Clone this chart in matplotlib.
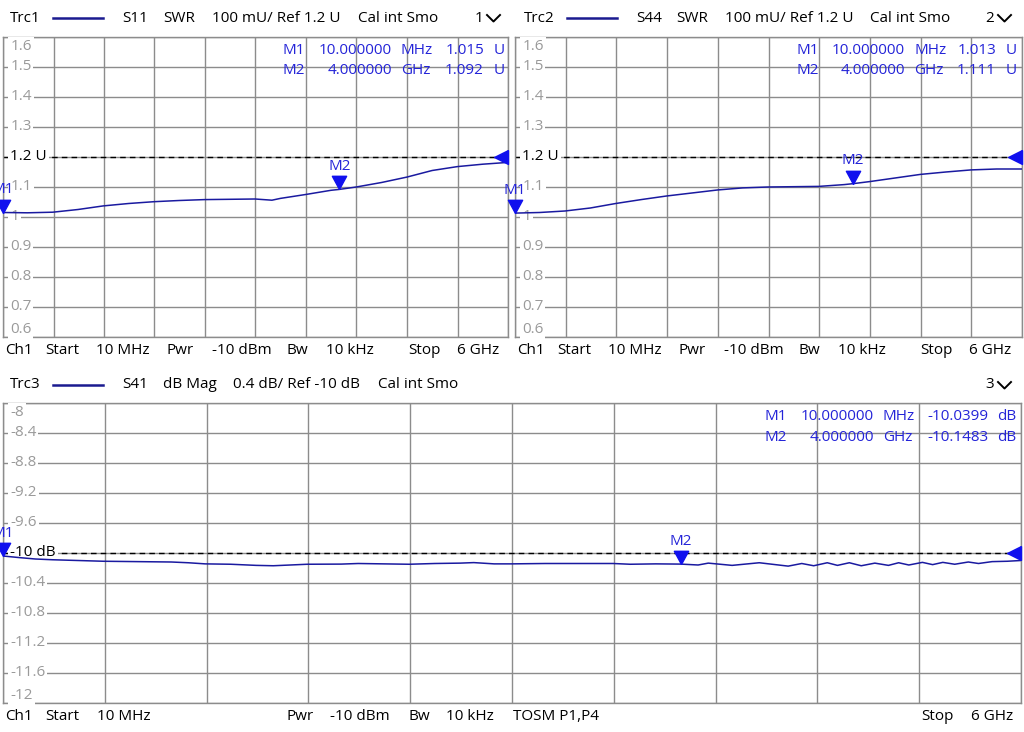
import numpy as np
import matplotlib.pyplot as plt
from matplotlib.lines import Line2D

plt.rcParams['font.family'] = ['Open Sans', 'DejaVu Sans']

W, H = 1024, 732

# trace 1: S11 SWR
s11_freq = [0.01, 0.3, 0.6, 0.9, 1.2, 1.5, 1.8, 2.1, 2.4, 2.7, 3.0, 3.2, 3.3, 3.6,
            3.9, 4.0, 4.2, 4.5, 4.8, 5.1, 5.4, 5.7, 6.0]
s11_swr = [1.015, 1.014, 1.016, 1.025, 1.037, 1.045, 1.051, 1.055, 1.058, 1.059, 1.060,
           1.056, 1.062, 1.075, 1.089, 1.092, 1.100, 1.115, 1.133, 1.155, 1.168, 1.176, 1.182]

# trace 2: S44 SWR
s44_freq = [0.01, 0.3, 0.6, 0.9, 1.2, 1.5, 1.8, 2.1, 2.4, 2.7, 3.0, 3.3, 3.6,
            3.9, 4.0, 4.2, 4.5, 4.8, 5.1, 5.4, 5.7, 6.0]
s44_swr = [1.013, 1.015, 1.020, 1.030, 1.045, 1.058, 1.070, 1.080, 1.090, 1.097, 1.100,
           1.101, 1.102, 1.108, 1.111, 1.118, 1.130, 1.142, 1.150, 1.157, 1.160, 1.160]

# trace 3: S41 dB Mag
s41_freq = [0.01, 0.1, 0.2, 0.3, 0.45, 0.6, 0.8, 1.0, 1.1, 1.2, 1.35, 1.5, 1.6, 1.7,
            1.8, 2.0, 2.1, 2.25, 2.4, 2.55, 2.7, 2.78, 2.9, 3.0, 3.2, 3.4, 3.6, 3.7,
            3.85, 4.0, 4.10, 4.16, 4.30, 4.46, 4.63, 4.71, 4.78, 4.86, 4.92, 4.99,
            5.06, 5.14, 5.22, 5.28, 5.34, 5.42, 5.48, 5.54, 5.61, 5.69, 5.75, 5.83,
            5.92, 6.0]
s41_db = [-10.04, -10.06, -10.08, -10.09, -10.10, -10.11, -10.115, -10.12, -10.13, -10.145,
          -10.15, -10.165, -10.17, -10.16, -10.15, -10.148, -10.14, -10.145, -10.15, -10.14,
          -10.135, -10.128, -10.145, -10.145, -10.14, -10.14, -10.14, -10.15, -10.145, -10.148,
          -10.16, -10.135, -10.165, -10.13, -10.175, -10.14, -10.17, -10.13, -10.165, -10.13,
          -10.17, -10.135, -10.165, -10.13, -10.16, -10.125, -10.155, -10.125, -10.15, -10.12,
          -10.14, -10.115, -10.11, -10.10]

marker_freq = [0.01, 4.0]
marker_names = ['M1', 'M2']
s11_markers = [1.015, 1.092]
s44_markers = [1.013, 1.111]
s41_markers = [-10.0399, -10.1483]

swr_ticks = [1.6, 1.5, 1.4, 1.3, 1.2, 1.1, 1.0, 0.9, 0.8, 0.7, 0.6]
swr_labels = ['1.6', '1.5', '1.4', '1.3', '1.2 U', '1.1', '1', '0.9', '0.8', '0.7', '0.6']
db_ticks = [-8, -8.4, -8.8, -9.2, -9.6, -10, -10.4, -10.8, -11.2, -11.6, -12]
db_labels = ['-8', '-8.4', '-8.8', '-9.2', '-9.6', '-10 dB', '-10.4', '-10.8', '-11.2',
             '-11.6', '-12']

GRID = '#8c8c8c'
LABEL = '#9a9a9a'
TRACE = '#1a1aa0'
MARK = '#1010ee'
TXT_BLUE = '#2424d8'
FS = 11

fig = plt.figure(figsize=(W / 100, H / 100), dpi=100)
fig.patch.set_facecolor('white')


def ftext(x, y, s, **kw):
    kw.setdefault('ha', 'left')
    kw.setdefault('va', 'center')
    kw.setdefault('fontsize', FS)
    fig.text(x / W, 1 - y / H, s, **kw)


def chevron(x, y):
    fig.add_artist(Line2D([x / W, (x + 6.5) / W, (x + 13) / W],
                          [1 - y / H, 1 - (y + 6.5) / H, 1 - y / H],
                          color='black', lw=1.4, transform=fig.transFigure))


def trc_line(x0, x1, y):
    fig.add_artist(Line2D([x0 / W, x1 / W], [1 - y / H, 1 - y / H],
                          color='#1a1a90', lw=1.8, transform=fig.transFigure))


down_tri = [(0, 0), (-1, 1.85), (1, 1.85), (0, 0)]
left_tri = [(0, 0.5), (0, -0.5), (-1, 0), (0, 0.5)]


def panel(px, freq, vals, ticks, labels, ref, mk_vals):
    x0, y0, w, h = px
    ax = fig.add_axes([x0 / W, 1 - (y0 + h) / H, w / W, h / H])
    ax.set_xlim(0.01, 6.0)
    ax.set_ylim(min(ticks), max(ticks))
    ax.set_xticks(np.linspace(0.01, 6.0, 11))
    ax.set_yticks(ticks)
    ax.grid(color=GRID, lw=1)
    ax.tick_params(length=0, labelleft=False, labelbottom=False)
    for s in ax.spines.values():
        s.set_color(GRID)
        s.set_linewidth(1)
    ax.axhline(ref, color='black', ls=(0, (4, 3)), lw=1, zorder=2)
    ax.plot(freq, vals, color=TRACE, lw=1.1, zorder=4)

    tr = ax.get_yaxis_transform()
    for t, lab in zip(ticks, labels):
        dy = 0
        if t == max(ticks):
            dy = -7
        elif t == min(ticks):
            dy = 5.5
        col = 'black' if t == ref else LABEL
        ax.annotate(lab, xy=(0, t), xycoords=tr, xytext=(5.2, dy), textcoords='offset points',
                    ha='left', va='center', fontsize=FS, color=col, zorder=3,
                    bbox=dict(boxstyle='square,pad=0.12', fc='white', ec='none'))

    # reference level arrow at right edge
    ax.plot([1.0], [ref], transform=tr, marker=left_tri, ms=20, color=MARK,
            clip_on=False, zorder=6, ls='none')

    # markers
    for f, v, name in zip(marker_freq, mk_vals, marker_names):
        ax.plot([f], [v], marker=down_tri, ms=19, color=MARK, clip_on=False,
                zorder=6, ls='none')
        ax.annotate(name, xy=(f, v), xytext=(0, 16.5), textcoords='offset points',
                    ha='center', va='center', fontsize=FS, color=TXT_BLUE,
                    annotation_clip=False, zorder=7)
    return ax


panel((3, 37, 505, 300), s11_freq, s11_swr, swr_ticks, swr_labels, 1.2, s11_markers)
panel((515, 37, 507, 300), s44_freq, s44_swr, swr_ticks, swr_labels, 1.2, s44_markers)
panel((3, 403, 1018, 300), s41_freq, s41_db, db_ticks, db_labels, -10, s41_markers)

# headers
ftext(10, 18, 'Trc1')
trc_line(53, 103, 18)
ftext(122, 18, 'S11')
ftext(163, 18, 'SWR')
ftext(212, 18, '100 mU/ Ref 1.2 U')
ftext(358, 18, 'Cal int Smo')
ftext(475, 18, '1')
chevron(487, 15)

ftext(524, 18, 'Trc2')
trc_line(567, 617, 18)
ftext(636, 18, 'S44')
ftext(676, 18, 'SWR')
ftext(725, 18, '100 mU/ Ref 1.2 U')
ftext(870, 18, 'Cal int Smo')
ftext(985, 18, '2')
chevron(998, 15)

ftext(10, 385, 'Trc3')
trc_line(53, 103, 385)
ftext(122, 385, 'S41')
ftext(163, 385, 'dB Mag')
ftext(233, 385, '0.4 dB/ Ref -10 dB')
ftext(378, 385, 'Cal int Smo')
ftext(985, 385, '3')
chevron(998, 382)

# marker readouts
ftext(283, 50, 'M1', color=TXT_BLUE)
ftext(392, 50, '10.000000', ha='right', color=TXT_BLUE)
ftext(401, 50, 'MHz', color=TXT_BLUE)
ftext(484, 50, '1.015', ha='right', color=TXT_BLUE)
ftext(494, 50, 'U', color=TXT_BLUE)
ftext(283, 70, 'M2', color=TXT_BLUE)
ftext(392, 70, '4.000000', ha='right', color=TXT_BLUE)
ftext(401, 70, 'GHz', color=TXT_BLUE)
ftext(484, 70, '1.092', ha='right', color=TXT_BLUE)
ftext(494, 70, 'U', color=TXT_BLUE)

ftext(796, 50, 'M1', color=TXT_BLUE)
ftext(905, 50, '10.000000', ha='right', color=TXT_BLUE)
ftext(914, 50, 'MHz', color=TXT_BLUE)
ftext(996, 50, '1.013', ha='right', color=TXT_BLUE)
ftext(1006, 50, 'U', color=TXT_BLUE)
ftext(796, 70, 'M2', color=TXT_BLUE)
ftext(905, 70, '4.000000', ha='right', color=TXT_BLUE)
ftext(914, 70, 'GHz', color=TXT_BLUE)
ftext(996, 70, '1.111', ha='right', color=TXT_BLUE)
ftext(1006, 70, 'U', color=TXT_BLUE)

ftext(765, 417, 'M1', color=TXT_BLUE)
ftext(874, 417, '10.000000', ha='right', color=TXT_BLUE)
ftext(883, 417, 'MHz', color=TXT_BLUE)
ftext(989, 417, '-10.0399', ha='right', color=TXT_BLUE)
ftext(997, 417, 'dB', color=TXT_BLUE)
ftext(765, 437, 'M2', color=TXT_BLUE)
ftext(874, 437, '4.000000', ha='right', color=TXT_BLUE)
ftext(883, 437, 'GHz', color=TXT_BLUE)
ftext(989, 437, '-10.1483', ha='right', color=TXT_BLUE)
ftext(997, 437, 'dB', color=TXT_BLUE)

# footers
for dx in [0, 512]:
    ftext(5 + dx, 351, 'Ch1')
    ftext(45 + dx, 351, 'Start')
    ftext(96 + dx, 351, '10 MHz')
    ftext(167 + dx, 351, 'Pwr')
    ftext(212 + dx, 351, '-10 dBm')
    ftext(287 + dx, 351, 'Bw')
    ftext(326 + dx, 351, '10 kHz')
    ftext(408 + dx, 351, 'Stop')
    ftext(457 + dx, 351, '6 GHz')

ftext(5, 717, 'Ch1')
ftext(45, 717, 'Start')
ftext(97, 717, '10 MHz')
ftext(287, 717, 'Pwr')
ftext(330, 717, '-10 dBm')
ftext(408, 717, 'Bw')
ftext(446, 717, '10 kHz')
ftext(513, 717, 'TOSM P1,P4')
ftext(921, 717, 'Stop')
ftext(971, 717, '6 GHz')

fig.savefig('out.png', dpi=100)
